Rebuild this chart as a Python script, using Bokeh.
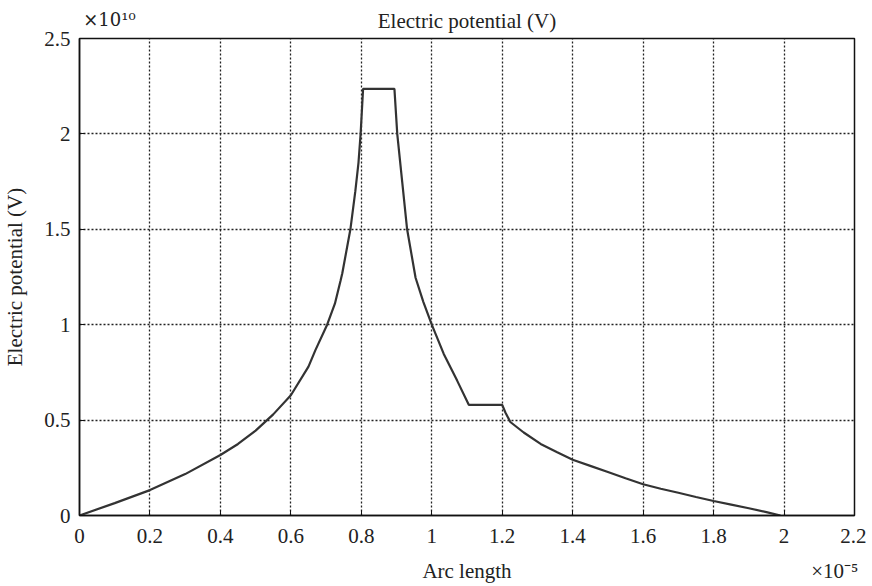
from bokeh.plotting import figure
from bokeh.models import FixedTicker, LinearAxis, Range1d
from bokeh.embed import file_html
from bokeh.resources import INLINE

# Data (arc length in units of 1e-5, potential in units of 1e10 V)
arc_length = [0.0, 0.1, 0.2, 0.3, 0.4, 0.45, 0.5, 0.55, 0.6, 0.65, 0.67,
              0.703, 0.725, 0.741, 0.746, 0.769, 0.783, 0.792, 0.798, 0.805,
              0.894, 0.902, 0.916, 0.930, 0.954, 0.976, 1.0, 1.034, 1.072, 1.105,
              1.2, 1.209, 1.223, 1.261, 1.309, 1.356, 1.4, 1.45, 1.5, 1.55,
              1.6, 1.65, 1.7, 1.75, 1.8, 1.85, 1.9, 1.95, 1.99]
potential = [0.0, 0.065, 0.133, 0.217, 0.317, 0.375, 0.445, 0.53, 0.63, 0.78, 0.868,
             1.0, 1.11, 1.23, 1.27, 1.5, 1.70, 1.85, 2.0, 2.236,
             2.236, 2.0, 1.75, 1.5, 1.246, 1.12, 1.0, 0.847, 0.707, 0.58,
             0.58, 0.54, 0.49, 0.435, 0.375, 0.331, 0.292, 0.26, 0.228, 0.195,
             0.164, 0.14, 0.119, 0.097, 0.076, 0.057, 0.038, 0.018, 0.0]

x_ticks = [0.0, 0.2, 0.4, 0.6, 0.8, 1.0, 1.2, 1.4, 1.6, 1.8, 2.0, 2.2]
x_tick_labels = ["0", "0.2", "0.4", "0.6", "0.8", "1", "1.2", "1.4", "1.6", "1.8", "2", "2.2"]
y_ticks = [0.0, 0.5, 1.0, 1.5, 2.0, 2.5]
y_tick_labels = ["0", "0.5", "1", "1.5", "2", "2.5"]

title_text = "Electric potential (V)"
x_label = "Arc length"
y_label = "Electric potential (V)"
y_multiplier = "×10¹⁰"
x_multiplier = "×10⁻⁵"

FONT = "Liberation Serif"
SUP_FONT = "DejaVu Serif"
FS = "21px"
TXT = "#222222"

p = figure(width=866, height=586, output_backend="svg", toolbar_location=None,
           x_range=Range1d(0, 2.2), y_range=Range1d(0, 2.5),
           min_border_left=79, min_border_right=12, min_border_top=38,
           min_border_bottom=71, background_fill_color="white",
           border_fill_color="white", title=None)

p.line(arc_length, potential, line_color="#333333", line_width=2.2)

def style_axis(ax, font=FONT, size=FS):
    ax.major_label_text_font = font
    ax.major_label_text_font_size = size
    ax.major_label_text_color = TXT
    ax.axis_label_text_font = font
    ax.axis_label_text_font_size = size
    ax.axis_label_text_font_style = "normal"
    ax.axis_label_text_color = TXT
    ax.minor_tick_line_color = None

for ax, ticks, labels in ((p.xaxis[0], x_ticks, x_tick_labels), (p.yaxis[0], y_ticks, y_tick_labels)):
    ax.ticker = FixedTicker(ticks=ticks)
    ax.major_label_overrides = {t: l for t, l in zip(ticks, labels)}
    style_axis(ax)
    ax.axis_line_color = "#111111"
    ax.axis_line_width = 1.5
    ax.major_tick_in = 5
    ax.major_tick_out = 0
    ax.major_tick_line_color = "#111111"

p.yaxis.axis_label = y_label
p.xaxis.major_label_standoff = 13
p.yaxis.major_label_standoff = 9
p.yaxis.axis_label_standoff = 14

# top text row: title
title_pos = [1.1]
top = LinearAxis(ticker=FixedTicker(ticks=title_pos),
                 major_label_overrides={title_pos[0]: title_text})
style_axis(top)
top.axis_line_color = None
top.major_tick_line_color = None
top.major_label_standoff = 0
p.add_layout(top, "above")

# y multiplier on the same baseline (outer panel pulled down)
ymul_pos = [0.085]
ymul = LinearAxis(ticker=FixedTicker(ticks=ymul_pos),
                  major_label_overrides={ymul_pos[0]: y_multiplier})
style_axis(ymul, SUP_FONT, "18px")
ymul.axis_line_color = None
ymul.major_tick_line_color = None
ymul.major_label_standoff = -30
p.add_layout(ymul, "above")

# bottom text row: axis label and multiplier on one baseline
bot_pos = [1.1, 2.144]
bot_texts = [x_label, x_multiplier]
bot = LinearAxis(ticker=FixedTicker(ticks=bot_pos),
                 major_label_overrides={t: s for t, s in zip(bot_pos, bot_texts)})
style_axis(bot)
bot.axis_line_color = None
bot.major_tick_line_color = None
bot.major_label_standoff = 7
p.add_layout(bot, "below")

p.xgrid.ticker = FixedTicker(ticks=x_ticks)
p.ygrid.ticker = FixedTicker(ticks=y_ticks)
for g in (p.xgrid[0], p.ygrid[0]):
    g.grid_line_color = "#222222"
    g.grid_line_dash = "2 2"
    g.grid_line_width = 1.3

p.outline_line_color = "#111111"
p.outline_line_width = 1.5
p.outline_line_alpha = 1.0

open("out.html", "w").write(file_html(p, INLINE))
